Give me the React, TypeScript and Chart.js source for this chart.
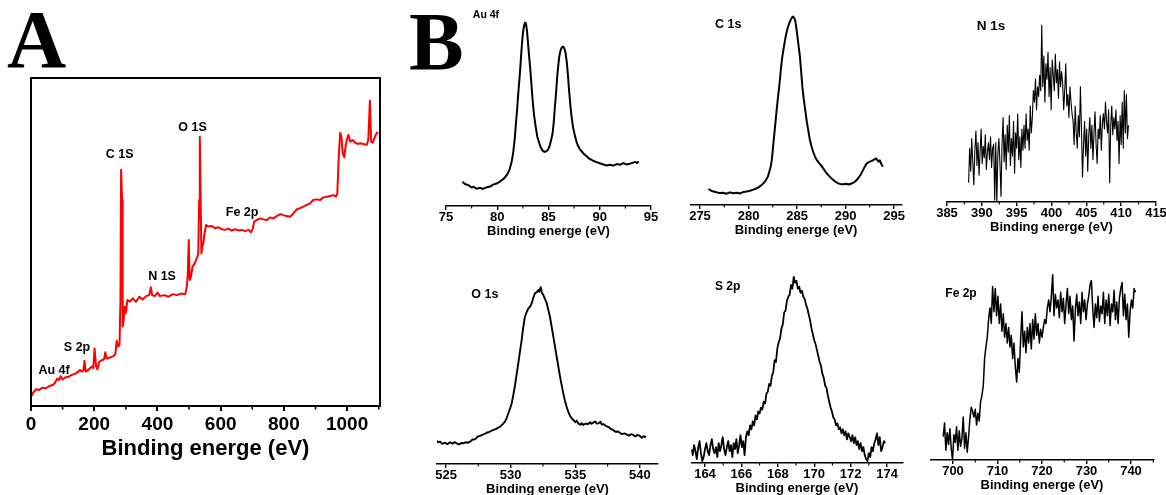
import React, { useEffect, useRef } from "react";
import { Chart, registerables } from "chart.js";

Chart.register(...registerables);

const SANS = "'Liberation Sans', Arial, Helvetica, sans-serif";
const SERIF = "'Liberation Serif', 'Times New Roman', serif";
Chart.defaults.font.family = SANS;

const AXIS_TITLE = "Binding energe (eV)";

// ---------------- Panel A: survey spectrum (binding energy eV, intensity a.u.) ----------------
const surveyMajorTicks = [0, 200, 400, 600, 800, 1000];
const surveyMinorTicks = [100, 300, 500, 700, 900, 1100];
const surveySpectrum: [number, number][] = [
  [0, 2.8], [7, 4.1], [16, 5.1], [26, 4.9], [37, 5.6], [47, 5.4], [58, 6.1], [69, 6.4], [76, 7.1], [83, 8.4],
  [89, 7.9], [94, 9.1], [100, 8.1], [108, 8.7], [118, 8.9], [129, 9.5], [139, 9.8], [150, 10.5], [155, 11.0], [160, 10.5],
  [166, 10.8], [169, 13.8], [173, 10.5], [181, 11.0], [192, 12.0], [197, 11.5], [201, 17.5], [206, 12.0], [210, 11.2], [216, 13.5],
  [224, 14.0], [231, 14.2], [235, 16.4], [239, 14.5], [250, 14.8], [261, 15.2], [267, 15.9], [271, 19.9], [275, 18.1], [280, 18.6],
  [283, 32.3], [285, 72.0], [288, 62.8], [290, 24.2], [293, 26.2], [296, 30.3], [300, 28.3], [305, 32.3], [313, 31.8], [322, 32.8],
  [332, 31.8], [343, 33.3], [353, 32.5], [364, 33.5], [374, 33.8], [379, 36.2], [383, 33.8], [392, 33.5], [400, 34.6], [408, 33.5],
  [421, 33.8], [435, 33.3], [448, 34.1], [461, 33.8], [477, 34.3], [488, 34.1], [493, 36.4], [496, 40.4], [499, 50.6], [502, 38.4],
  [506, 39.4], [511, 42.5], [518, 43.5], [526, 45.5], [529, 46.5], [532, 62.8], [534, 82.1], [537, 60.8], [539, 46.5], [542, 48.6],
  [545, 49.6], [549, 52.6], [554, 55.2], [561, 54.7], [572, 54.9], [582, 54.2], [593, 54.5], [603, 53.9], [614, 53.7], [624, 54.1],
  [635, 53.5], [646, 53.9], [656, 53.5], [667, 53.7], [677, 53.3], [688, 53.7], [695, 53.0], [701, 53.9], [706, 56.2], [714, 56.7],
  [725, 57.2], [735, 56.9], [746, 56.7], [756, 57.5], [767, 57.2], [777, 57.9], [788, 58.5], [798, 58.2], [809, 57.9], [820, 57.7],
  [830, 58.7], [841, 60.0], [851, 60.3], [862, 60.8], [872, 61.3], [883, 61.8], [893, 62.8], [904, 63.0], [915, 62.8], [925, 63.6],
  [936, 63.8], [946, 64.0], [957, 64.3], [965, 63.8], [969, 64.8], [973, 75.0], [978, 83.3], [982, 82.1], [986, 77.0], [991, 75.8],
  [995, 79.1], [999, 81.1], [1004, 82.6], [1010, 80.6], [1018, 81.1], [1025, 80.3], [1033, 79.9], [1041, 80.1], [1052, 79.9], [1062, 79.6],
  [1067, 81.1], [1072, 93.1], [1076, 80.6], [1081, 80.3], [1088, 82.1], [1094, 83.3], [1099, 83.1],
];
const surveyPeakNames = ["Au 4f", "S 2p", "C 1S", "N 1S", "O 1S", "Fe 2p"];
const surveyPeakLabelEnergy = [72.8, 145.6, 280.7, 414.6, 511, 667.7];
const surveyPeakLabelLevel = [10.7, 17.8, 76.8, 39.6, 84.9, 59.1];

// ---------------- Panel B: high-resolution spectra ----------------
const au4fMajorTicks = [75, 80, 85, 90, 95];
const au4fMinorTicks = [77.5, 82.5, 87.5, 92.5];
const au4fSpectrum: [number, number][] = [
  [76.6, 12.4], [76.85, 11.2], [77.2, 10.6], [77.5, 9.4], [77.7, 9.8], [78.0, 8.8], [78.3, 9.3], [78.6, 8.7], [79.0, 9.6], [79.3, 9.9],
  [79.6, 10.9], [80.0, 11.6], [80.3, 12.6], [80.6, 13.8], [80.85, 15.2], [81.05, 16.9], [81.2, 18.6], [81.4, 22.5], [81.55, 27.0], [81.7, 34.0],
  [81.8, 40.5], [81.95, 50.0], [82.05, 57.5], [82.2, 67.0], [82.3, 74.5], [82.4, 82.0], [82.5, 88.0], [82.6, 91.5], [82.7, 93.5], [82.8, 93.2],
  [82.9, 89.5], [82.95, 86.4], [83.1, 77.0], [83.2, 71.1], [83.35, 61.0], [83.45, 54.1], [83.6, 46.0], [83.75, 40.5], [83.9, 35.5], [84.1, 32.0],
  [84.25, 29.8], [84.4, 28.4], [84.6, 27.6], [84.8, 27.9], [84.95, 28.8], [85.1, 30.5], [85.25, 33.5], [85.4, 37.1], [85.5, 42.0], [85.6, 49.0],
  [85.75, 58.5], [85.85, 66.0], [85.95, 71.5], [86.05, 76.2], [86.15, 78.8], [86.25, 80.4], [86.35, 81.2], [86.45, 81.3], [86.55, 80.4], [86.65, 78.5],
  [86.8, 72.8], [86.9, 66.5], [87.0, 59.4], [87.15, 50.5], [87.25, 45.6], [87.4, 40.0], [87.6, 35.4], [87.75, 32.5], [87.9, 30.6], [88.05, 29.0],
  [88.25, 27.8], [88.45, 26.6], [88.7, 25.5], [88.95, 24.2], [89.2, 23.6], [89.45, 22.8], [89.7, 22.4], [90.0, 21.8], [90.35, 21.2], [90.7, 20.7],
  [91.0, 21.0], [91.3, 20.6], [91.65, 21.4], [92.0, 21.1], [92.3, 21.9], [92.6, 21.2], [92.95, 21.6], [93.2, 22.0], [93.45, 22.5], [93.65, 21.9],
  [93.8, 22.8],
];

const c1sMajorTicks = [275, 280, 285, 290, 295];
const c1sMinorTicks = [277.5, 282.5, 287.5, 292.5];
const c1sSpectrum: [number, number][] = [
  [275.86, 8.2], [276.2, 7.2], [276.5, 6.8], [276.7, 6.5], [277.0, 6.1], [277.4, 6.3], [277.7, 5.8], [278.1, 6.5], [278.4, 6.0], [278.8, 6.3],
  [279.1, 5.9], [279.5, 6.7], [279.8, 6.9], [280.15, 7.3], [280.5, 7.9], [280.85, 8.6], [281.1, 9.3], [281.35, 10.3], [281.6, 11.4], [281.8, 12.8],
  [282.0, 14.6], [282.15, 17.1], [282.3, 20.0], [282.4, 23.1], [282.5, 28.0], [282.6, 33.3], [282.75, 41.0], [282.9, 48.7], [283.05, 55.8], [283.2, 62.4],
  [283.3, 67.8], [283.4, 72.7], [283.5, 76.5], [283.65, 81.2], [283.8, 85.5], [283.9, 88.1], [284.05, 91.0], [284.2, 93.2], [284.35, 95.0], [284.5, 96.3],
  [284.6, 96.6], [284.7, 96.0], [284.8, 94.9], [284.9, 92.0], [285.0, 88.1], [285.15, 82.0], [285.3, 76.1], [285.45, 67.0], [285.55, 60.7], [285.7, 54.0],
  [285.85, 48.7], [286.0, 43.0], [286.15, 38.5], [286.3, 34.0], [286.5, 29.9], [286.7, 26.8], [286.85, 24.8], [287.05, 23.0], [287.3, 21.4], [287.5, 20.2],
  [287.7, 18.8], [287.95, 17.0], [288.2, 15.4], [288.5, 13.9], [288.75, 12.8], [289.0, 11.8], [289.25, 11.1], [289.5, 10.7], [289.8, 10.6], [290.05, 10.9],
  [290.3, 10.5], [290.55, 10.9], [290.8, 11.4], [291.05, 12.3], [291.3, 13.7], [291.55, 15.5], [291.8, 17.9], [292.0, 19.8], [292.2, 21.4], [292.45, 22.1],
  [292.7, 22.6], [292.95, 23.3], [293.15, 23.9], [293.3, 22.9], [293.4, 22.2], [293.55, 22.9], [293.65, 21.4], [293.85, 19.6],
];

const n1sMajorTicks = [385, 390, 395, 400, 405, 410, 415];
const n1sMinorTicks = [387.5, 392.5, 397.5, 402.5, 407.5, 412.5];
const n1sStartEnergy = 388.1;
const n1sEnergyStep = 0.15;
const n1sCounts = [
  10, 28, 16, 33, 21, 9, 27, 37, 19, 31, 14, 26, 38, 20, 29, 23, 35, 17, 26, 31,
  22, 34, 18, 28, 30, 1, 31, 0, 25, 33, 20, 3,
  30, 44, 21, 35, 17, 40, 26, 45, 19, 33, 24, 42, 15, 36, 28, 46, 22, 34, 18, 38, 27,
  40, 28, 46, 32, 38, 27, 50, 36, 44, 58,
  52, 64, 48, 60, 55, 66, 58,
  92,
  60, 76, 52, 72, 64, 78, 55, 70, 48, 74, 66, 58, 77, 62, 69, 54, 73, 60, 68,
  62, 48, 58, 72, 50, 56, 44, 60, 52, 46,
  42, 30, 50, 36, 28, 45, 34, 60, 38,
  13,
  30, 42, 24, 38, 16, 35, 44, 28, 40, 22, 36, 47, 30, 20, 38, 33, 45, 27, 41,
  46, 38, 52, 42, 36, 48, 10, 40, 50, 35, 44, 38, 48, 32, 42,
  20, 45, 30, 52, 28, 58, 36, 56, 33, 40,
];

const o1sMajorTicks = [525, 530, 535, 540];
const o1sMinorTicks = [527.5, 532.5, 537.5];
const o1sSpectrum: [number, number][] = [
  [524.28, 11.7], [524.4, 10.9], [524.54, 11.2], [524.7, 10.1], [524.92, 10.7], [525.1, 10.0], [525.3, 10.9], [525.5, 10.2], [525.65, 11.0], [525.83, 10.4],
  [526.0, 9.8], [526.2, 10.6], [526.34, 10.4], [526.5, 10.9], [526.7, 10.7], [526.86, 11.2], [527.05, 12.3], [527.24, 12.4], [527.45, 13.8], [527.63, 14.1],
  [527.85, 14.7], [528.0, 15.2], [528.15, 15.7], [528.35, 16.2], [528.5, 16.6], [528.66, 17.1], [528.85, 17.5], [529.0, 18.2], [529.18, 18.7], [529.35, 19.8],
  [529.56, 21.3], [529.7, 23.2], [529.82, 25.5], [529.95, 27.8], [530.08, 30.5], [530.2, 34.5], [530.34, 39.7], [530.45, 44.6], [530.59, 50.6], [530.72, 56.5],
  [530.85, 62.3], [530.97, 68.5], [531.1, 74.0], [531.25, 76.5], [531.37, 78.2], [531.5, 79.0], [531.63, 80.8], [531.75, 83.5], [531.88, 85.8], [532.0, 86.2],
  [532.14, 87.4], [532.22, 86.5], [532.32, 88.8], [532.42, 86.0], [532.53, 84.9], [532.65, 83.0], [532.79, 80.8], [532.9, 77.8], [533.04, 74.0], [533.17, 69.0],
  [533.3, 64.0], [533.43, 59.0], [533.56, 53.9], [533.7, 48.5], [533.82, 43.9], [533.95, 39.5], [534.07, 35.5], [534.2, 31.8], [534.33, 28.8], [534.46, 26.2],
  [534.59, 24.3], [534.72, 23.0], [534.85, 22.1], [535.0, 21.0], [535.1, 21.8], [535.23, 20.4], [535.4, 19.7], [535.5, 20.5], [535.62, 19.6], [535.8, 20.3],
  [536.0, 20.1], [536.15, 21.0], [536.25, 20.2], [536.39, 20.8], [536.55, 21.4], [536.65, 20.3], [536.78, 20.4], [536.95, 21.2], [537.05, 19.8], [537.16, 20.1],
  [537.35, 19.2], [537.55, 18.7], [537.75, 17.6], [537.94, 17.1], [538.1, 16.2], [538.3, 16.3], [538.46, 15.7], [538.6, 15.0], [538.8, 15.4], [538.97, 14.9],
  [539.15, 14.2], [539.3, 15.0], [539.49, 14.6], [539.65, 13.8], [539.8, 14.6], [540.0, 14.1], [540.15, 13.2], [540.3, 14.0], [540.47, 13.4],
];

const s2pMajorTicks = [164, 166, 168, 170, 172, 174];
const s2pMinorTicks = [165, 167, 169, 171, 173];
const s2pStartEnergy = 163.25;
const s2pEnergyStep = 0.075;
const s2pCounts = [
  7, 4, 9, 6, 2, 8, 11, 5, 1, 3, 7, 10, 6, 4, 9, 12, 7, 5, 8, 3,
  10, 6, 9, 13, 7, 4, 8, 11, 6, 9, 3, 10, 7, 12, 5, 9, 14, 8, 11, 4, 13,
  16, 14, 19, 17, 21, 19, 24, 22, 26, 25, 28, 27, 31, 30, 35, 36, 40, 39, 44, 46,
  52, 51, 58, 61, 63, 68, 70, 76, 77, 82, 84, 85, 90, 88, 94, 91, 92, 88, 89, 86,
  87, 84, 83, 80, 78, 75, 72, 68, 65, 62, 60, 57, 54, 51, 49, 45, 43, 39, 38, 34,
  31, 28, 26, 23, 22, 19, 20, 17, 18, 15, 17, 14, 16, 12, 15, 13, 11, 14, 10, 13,
  9, 11, 7, 10, 6, 8, 4, 2, 1, 5, 3, 8, 6, 10, 12, 15, 9, 13, 6, 8, 11, 10,
];

const fe2pMajorTicks = [700, 710, 720, 730, 740];
const fe2pMinorTicks = [705, 715, 725, 735, 745];
const fe2pStartEnergy = 697.8;
const fe2pEnergyStep = 0.3;
const fe2pCounts = [
  12, 19, 5, 14, 8, 16, 6, 0, 13, 9, 17, 5, 15, 7, 11, 22, 6, 14, 4, 12,
  21, 27, 25, 22, 26, 18, 24, 20, 30, 33, 38, 52, 58, 63, 72, 78, 70, 89, 76, 88,
  74, 84, 70, 80, 66, 75, 63, 70, 60, 68, 58, 64, 52, 60, 48, 40, 52, 45, 62, 76,
  58, 66, 55, 68, 60, 70, 57, 72, 62, 75, 64, 70, 60, 67, 63, 68, 72, 70, 78, 82,
  76, 84, 95, 74, 85, 78, 82, 73, 86, 76, 83, 70, 80, 88, 75, 84, 72, 79, 61, 77,
  85, 74, 81, 70, 86, 76, 82, 72, 80, 84, 90, 92, 78, 68, 80, 73, 84, 71, 79, 75,
  86, 70, 82, 74, 85, 69, 80, 76, 87, 72, 81, 70, 83, 88, 91, 74, 85, 72, 80, 63,
  76, 82, 78, 88, 86,
];

// ---------------- helpers ----------------
type Pt = { x: number; y: number };
type Label = { text: string; x: number; y: number; size: number };

const fromPairs = (pairs: [number, number][]): Pt[] => pairs.map(([x, y]) => ({ x, y }));
const fromGrid = (start: number, step: number, values: number[]): Pt[] =>
  values.map((y, i) => ({ x: Math.round((start + i * step) * 1000) / 1000, y }));

interface PanelSpec {
  id: string;
  area: { L: number; R: number; T: number; B: number };
  xMin: number;
  xMax: number;
  major: number[];
  minor: number[];
  points: Pt[];
  color: string;
  lineWidth: number;
  tickSize: number;
  titleSize: number;
  tickLen: number;
  minorLen: number;
  tickPad: number;
  axisWidth: number;
  frame: boolean;
  labels: Label[];
}

const smallPanel = (
  id: string,
  area: PanelSpec["area"],
  xMin: number,
  xMax: number,
  major: number[],
  minor: number[],
  points: Pt[],
  lineWidth: number,
  label: Label
): PanelSpec => ({
  id, area, xMin, xMax, major, minor, points,
  color: "#000000", lineWidth,
  tickSize: 13, titleSize: 13, tickLen: 4, minorLen: 2.5, tickPad: 1,
  axisWidth: 1.4, frame: false, labels: [label],
});

const panels: PanelSpec[] = [
  {
    id: "survey",
    area: { L: 31, R: 380, T: 78, B: 406 },
    xMin: 0, xMax: 1104,
    major: surveyMajorTicks, minor: surveyMinorTicks,
    points: fromPairs(surveySpectrum),
    color: "#ff0000", lineWidth: 2,
    tickSize: 19, titleSize: 22, tickLen: 5, minorLen: 3.5, tickPad: 4,
    axisWidth: 2, frame: true,
    labels: surveyPeakNames.map((text, i) => ({ text, x: surveyPeakLabelEnergy[i], y: surveyPeakLabelLevel[i], size: 12.5 })),
  },
  smallPanel("au4f", { L: 446, R: 651, T: 10, B: 206 }, 75, 95, au4fMajorTicks, au4fMinorTicks,
    fromPairs(au4fSpectrum), 2, { text: "Au 4f", x: 78.9, y: 97.4, size: 10.5 }),
  smallPanel("c1s", { L: 690.3, R: 901.8, T: 10, B: 205 }, 274, 295.8, c1sMajorTicks, c1sMinorTicks,
    fromPairs(c1sSpectrum), 2, { text: "C 1s", x: 277.9, y: 92.3, size: 12.5 }),
  smallPanel("n1s", { L: 947, R: 1156, T: 10, B: 202 }, 385, 415, n1sMajorTicks, n1sMinorTicks,
    fromGrid(n1sStartEnergy, n1sEnergyStep, n1sCounts), 1.1, { text: "N 1s", x: 391.3, y: 91.3, size: 13.5 }),
  smallPanel("o1s", { L: 437, R: 658, T: 265, B: 464 }, 524.3, 541.4, o1sMajorTicks, o1sMinorTicks,
    fromPairs(o1sSpectrum), 1.9, { text: "O 1s", x: 528.0, y: 85.3, size: 12.5 }),
  smallPanel("s2p", { L: 691.35, R: 902.5, T: 265, B: 463 }, 163.25, 174.85, s2pMajorTicks, s2pMinorTicks,
    fromGrid(s2pStartEnergy, s2pEnergyStep, s2pCounts), 1.8, { text: "S 2p", x: 165.24, y: 89.0, size: 12 }),
  smallPanel("fe2p", { L: 930.75, R: 1153.25, T: 265, B: 460 }, 695, 745, fe2pMajorTicks, fe2pMinorTicks,
    fromGrid(fe2pStartEnergy, fe2pEnergyStep, fe2pCounts), 1.5, { text: "Fe 2p", x: 701.8, y: 85.5, size: 12 }),
];

function makeDecoPlugin(spec: PanelSpec) {
  return {
    id: "panelDeco_" + spec.id,
    afterDraw(chart: any) {
      const { ctx, chartArea } = chart;
      const xs = chart.scales.x;
      const ys = chart.scales.y;
      ctx.save();
      ctx.strokeStyle = "#000";
      if (spec.frame) {
        ctx.lineWidth = spec.axisWidth;
        ctx.strokeRect(chartArea.left, chartArea.top, chartArea.right - chartArea.left, chartArea.bottom - chartArea.top);
      }
      ctx.lineWidth = spec.axisWidth * 0.8;
      for (const v of spec.minor) {
        if (v < spec.xMin || v > spec.xMax) continue;
        const px = xs.getPixelForValue(v);
        ctx.beginPath();
        ctx.moveTo(px, chartArea.bottom);
        ctx.lineTo(px, chartArea.bottom + spec.minorLen);
        ctx.stroke();
      }
      ctx.fillStyle = "#000";
      ctx.textAlign = "center";
      ctx.textBaseline = "middle";
      for (const l of spec.labels) {
        ctx.font = `bold ${l.size}px ${SANS}`;
        ctx.fillText(l.text, xs.getPixelForValue(l.x), ys.getPixelForValue(l.y));
      }
      ctx.restore();
    },
  };
}

function Panel({ spec }: { spec: PanelSpec }) {
  const ref = useRef<HTMLCanvasElement | null>(null);
  const { L, R, T, B } = spec.area;
  const axisH = spec.tickLen + 2 * spec.tickPad + spec.tickSize + spec.titleSize;
  const left = Math.floor(L) - 28;
  const right = Math.ceil(R) + 28;
  const top = Math.floor(T) - 6;
  const bottom = Math.ceil(B + axisH) + 6;
  const width = right - left;
  const height = bottom - top;
  const pad = { left: L - left, right: right - R, top: T - top, bottom: bottom - B - axisH };

  useEffect(() => {
    if (!ref.current) return;
    const chart = new Chart(ref.current, {
      type: "line",
      data: {
        datasets: [
          {
            data: spec.points,
            borderColor: spec.color,
            borderWidth: spec.lineWidth,
            pointRadius: 0,
            tension: 0,
            fill: false,
            borderJoinStyle: "round",
          },
        ],
      },
      options: {
        responsive: false,
        animation: false,
        events: [],
        layout: { padding: pad },
        plugins: { legend: { display: false }, tooltip: { enabled: false } },
        scales: {
          x: {
            type: "linear",
            min: spec.xMin,
            max: spec.xMax,
            afterBuildTicks: (scale: any) => {
              scale.ticks = spec.major.map((v) => ({ value: v }));
            },
            grid: {
              display: true,
              drawOnChartArea: false,
              drawTicks: true,
              tickLength: spec.tickLen,
              color: "#000",
              lineWidth: spec.axisWidth,
            },
            border: { display: true, color: "#000", width: spec.axisWidth },
            ticks: {
              autoSkip: false,
              maxRotation: 0,
              minRotation: 0,
              padding: spec.tickPad,
              color: "#000",
              font: { family: SANS, size: spec.tickSize, weight: "bold", lineHeight: 1 },
              callback: (v: any) => String(v),
            },
            title: {
              display: true,
              text: AXIS_TITLE,
              color: "#000",
              font: { family: SANS, size: spec.titleSize, weight: "bold", lineHeight: 1 },
              padding: { top: 0, bottom: 0 },
            },
          },
          y: { type: "linear", display: false, min: 0, max: 100 },
        },
      } as any,
      plugins: [makeDecoPlugin(spec)],
    });
    return () => chart.destroy();
  }, []);

  return (
    <canvas
      ref={ref}
      width={width}
      height={height}
      style={{ position: "absolute", left, top, width, height }}
    />
  );
}

export default function App() {
  return (
    <div
      style={{
        position: "absolute",
        left: 0,
        top: 0,
        width: 1166,
        height: 495,
        overflow: "hidden",
        background: "#ffffff",
      }}
    >
      <div
        style={{
          position: "absolute",
          left: 7,
          top: -1,
          font: `bold 82px ${SERIF}`,
          lineHeight: "82px",
          color: "#000",
        }}
      >
        A
      </div>
      <div
        style={{
          position: "absolute",
          left: 409,
          top: 1,
          font: `bold 82px ${SERIF}`,
          lineHeight: "82px",
          color: "#000",
        }}
      >
        B
      </div>
      {panels.map((p) => (
        <Panel key={p.id} spec={p} />
      ))}
    </div>
  );
}
